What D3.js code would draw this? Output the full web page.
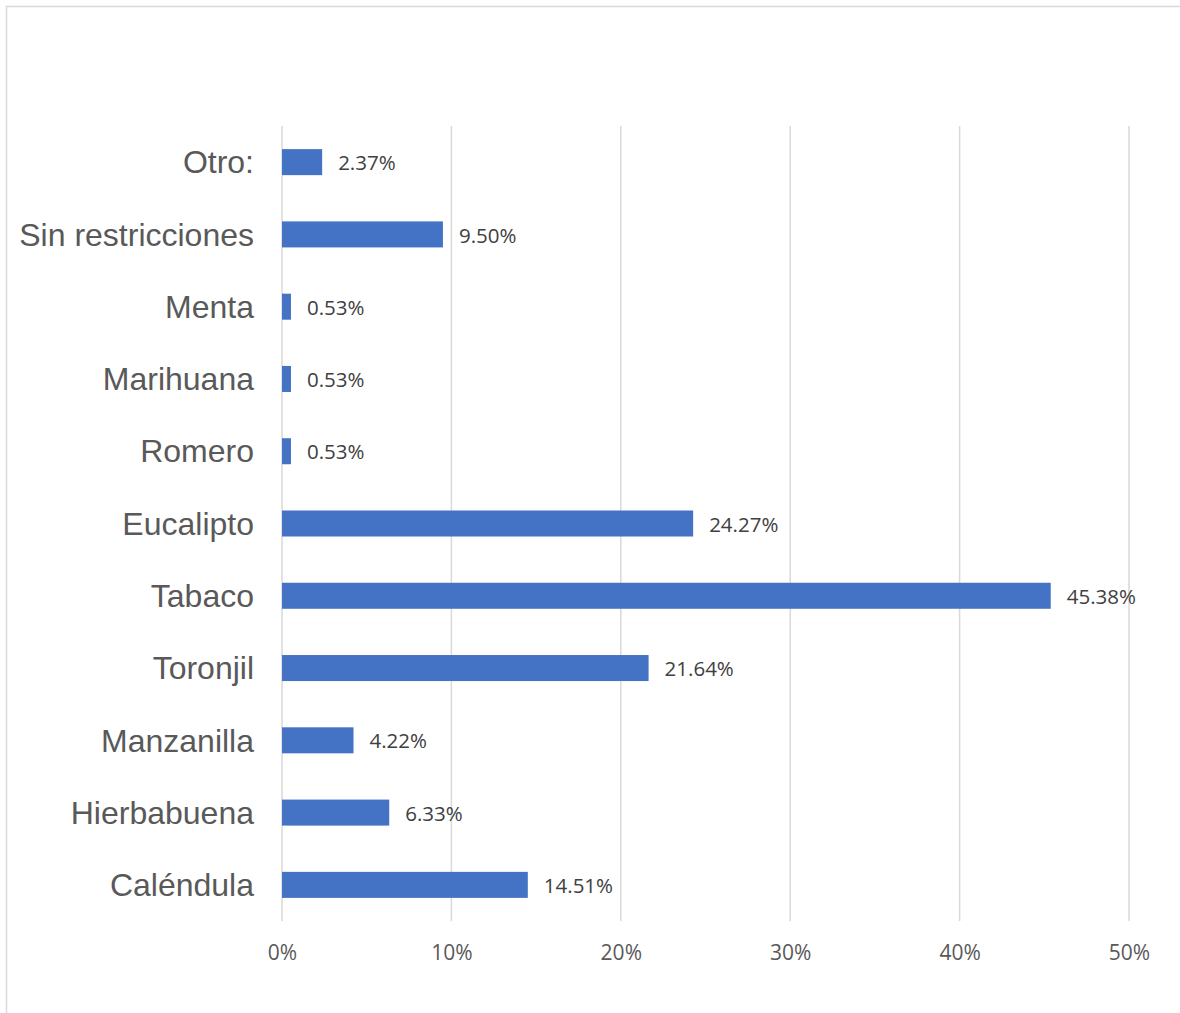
<!DOCTYPE html>
<html>
<head>
  <script src="https://cdnjs.cloudflare.com/ajax/libs/d3/7.8.5/d3.min.js"></script>
  <style>
    body { margin: 0; background: #fff; }
  </style>
</head>
<body>
  <svg id="chart" width="1180" height="1013"></svg>
  <script>
    // categories top to bottom as shown
    var categories = ["Otro:", "Sin restricciones", "Menta", "Marihuana", "Romero", "Eucalipto",
                      "Tabaco", "Toronjil", "Manzanilla", "Hierbabuena", "Caléndula"];
    var values = [2.37, 9.50, 0.53, 0.53, 0.53, 24.27, 45.38, 21.64, 4.22, 6.33, 14.51];
    var tickValues = [0, 10, 20, 30, 40, 50];

    var svg = d3.select("#chart");

    // outer frame (top and left edges only visible)
    svg.append("rect")
      .attr("x", 6.5).attr("y", 6.5)
      .attr("width", 1200).attr("height", 1100)
      .attr("fill", "none")
      .attr("stroke", "#d9d9d9")
      .attr("stroke-width", 1.5);

    var plotLeft = 282, plotRight = 1129, plotTop = 126, plotBottom = 921;

    var x = d3.scaleLinear().domain([0, 50]).range([plotLeft, plotRight]);
    var y = d3.scaleBand().domain(categories).range([plotTop, plotBottom]).paddingInner(0.64).paddingOuter(0.32);

    // gridlines
    svg.append("g").selectAll("line")
      .data(tickValues)
      .enter().append("line")
      .attr("x1", function(d) { return x(d); })
      .attr("x2", function(d) { return x(d); })
      .attr("y1", plotTop).attr("y2", plotBottom)
      .attr("stroke", "#d9d9d9")
      .attr("stroke-width", 1.5);

    // bars
    svg.append("g").selectAll("rect")
      .data(values)
      .enter().append("rect")
      .attr("x", x(0))
      .attr("y", function(d, i) { return y(categories[i]); })
      .attr("width", function(d) { return x(d) - x(0); })
      .attr("height", y.bandwidth())
      .attr("fill", "#4472c4");

    // data labels
    svg.append("g").selectAll("text")
      .data(values)
      .enter().append("text")
      .attr("x", function(d) { return x(d) + 16; })
      .attr("y", function(d, i) { return y(categories[i]) + y.bandwidth() / 2 + 1; })
      .attr("dy", "0.35em")
      .attr("font-family", "'Open Sans', 'Noto Sans', sans-serif")
      .attr("font-size", "20.5px")
      .attr("fill", "#404040")
      .text(function(d) { return d.toFixed(2) + "%"; });

    // category labels
    svg.append("g").selectAll("text")
      .data(categories)
      .enter().append("text")
      .attr("x", 254)
      .attr("y", function(d) { return y(d) + y.bandwidth() / 2; })
      .attr("dy", "0.35em")
      .attr("text-anchor", "end")
      .attr("font-family", "'Liberation Sans', Arial, sans-serif")
      .attr("font-size", "32px")
      .attr("fill", "#595959")
      .text(function(d) { return d; });

    // x axis tick labels
    var xAxis = d3.axisBottom(x).tickValues(tickValues).tickSize(0).tickPadding(0)
      .tickFormat(function(d) { return d + "%"; });
    var gx = svg.append("g")
      .attr("transform", "translate(0," + 953 + ")")
      .call(xAxis);
    gx.select(".domain").remove();
    gx.selectAll("text")
      .attr("y", 0)
      .attr("dy", "0.35em")
      .attr("font-family", "'Open Sans', 'Noto Sans', sans-serif")
      .attr("font-size", "21px")
      .attr("fill", "#595959");
  </script>
</body>
</html>
